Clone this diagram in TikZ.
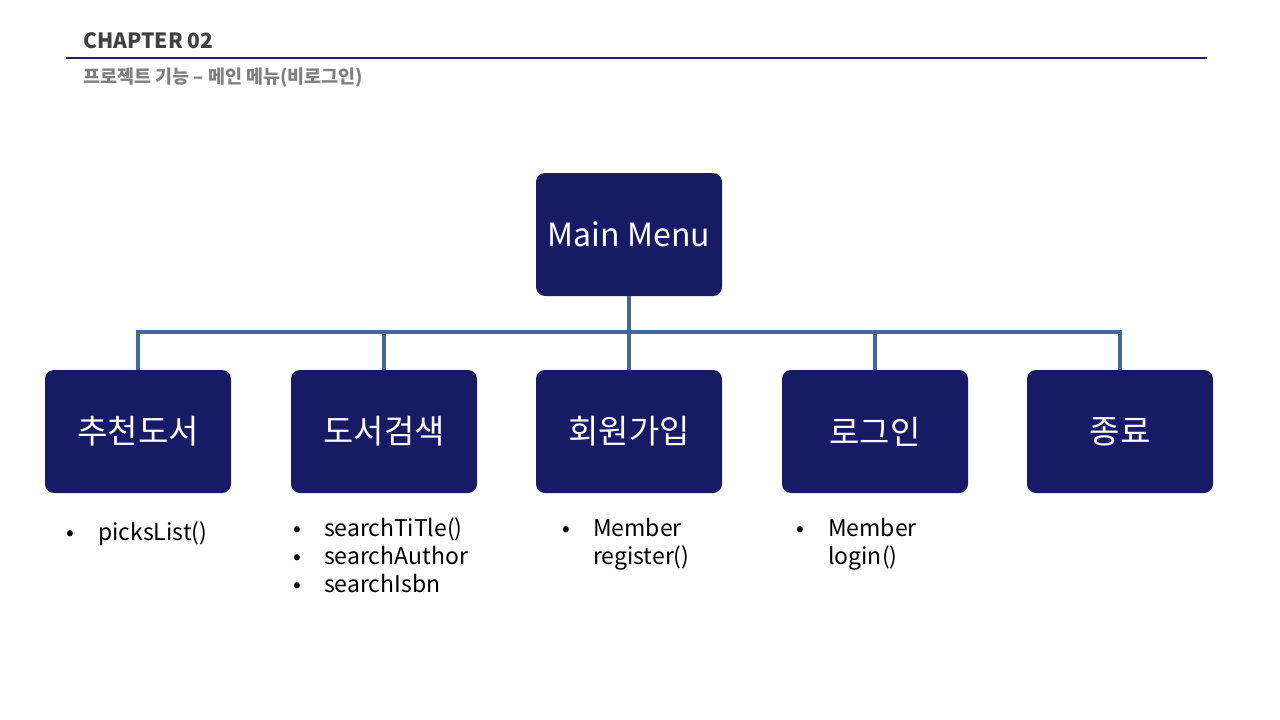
\documentclass[tikz,border=0pt]{standalone}
\usepackage{fontspec}
\setmainfont{Noto Sans CJK KR}
\definecolor{navybox}{RGB}{23,27,102}
\definecolor{linkblue}{RGB}{65,104,155}
\definecolor{headline}{RGB}{30,32,110}
\definecolor{headtext}{RGB}{64,64,64}
\definecolor{subtext}{RGB}{127,127,127}
\begin{document}
\begin{tikzpicture}[x=1pt,y=-1pt,
  menubox/.style={draw=none,fill=navybox,rounded corners=9pt,minimum width=186pt,minimum height=123pt,inner sep=0pt,text=white,font=\fontsize{33}{38}\selectfont},
  link/.style={draw=linkblue,line width=3.2pt},
  bul/.style={anchor=base west,inner sep=0pt,font=\fontsize{23}{28}\selectfont},
  btext/.style={anchor=base west,inner sep=0pt,font=\fontsize{23}{28}\selectfont}]
\useasboundingbox (0,0) rectangle (1280,720);
\fill[white] (0,0) rectangle (1280,720);
% header
\node[anchor=base west,inner sep=0pt,text=headtext,font=\bfseries\fontsize{21}{24}\selectfont] (title) at (83,48) {CHAPTER 02};
\coordinate (hl1) at (66,58);
\coordinate (hl2) at (1207,58);
\draw[headline,line width=1.3pt] (hl1) -- (hl2);
\node[anchor=base west,inner sep=0pt,text=subtext,font=\bfseries\fontsize{18.5}{22}\selectfont] (subtitle) at (83,83) {프로젝트 기능 – 메인 메뉴(비로그인)};
% boxes
\node[menubox,font=\fontsize{32}{38}\selectfont] (main) at (629,234.5) {Main Menu};
\node[menubox] (c1) at (138,431.5) {추천도서};
\node[menubox] (c2) at (384,431.5) {도서검색};
\node[menubox] (c3) at (629,431.5) {회원가입};
\node[menubox] (c4) at (875,431.5) {로그인};
\node[menubox] (c5) at (1120,431.5) {종료};
% connectors
\coordinate (hub) at (629,332);
\draw[link] (main.south) -- (hub);
\draw[link] (c1.north) |- (hub);
\draw[link] (c2.north) |- (hub);
\draw[link] (c3.north) -- (hub);
\draw[link] (c4.north) |- (hub);
\draw[link] (c5.north) |- (hub);
% bullet lists
\node[bul] (b1) at (66,540) {•};
\node[btext] (t1) at (98,540) {picksList()};
\node[bul] (b2a) at (293,536) {•};
\node[bul] (b2b) at (293,564) {•};
\node[bul] (b2c) at (293,592) {•};
\node[btext] (t2a) at (324,536) {searchTiTle()};
\node[btext] (t2b) at (324,564) {searchAuthor};
\node[btext] (t2c) at (324,592) {searchIsbn};
\node[bul] (b3) at (562,536) {•};
\node[btext] (t3a) at (593,536) {Member};
\node[btext] (t3b) at (593,564) {register()};
\node[bul] (b4) at (796,536) {•};
\node[btext] (t4a) at (828,536) {Member};
\node[btext] (t4b) at (828,564) {login()};
\end{tikzpicture}
\end{document}
